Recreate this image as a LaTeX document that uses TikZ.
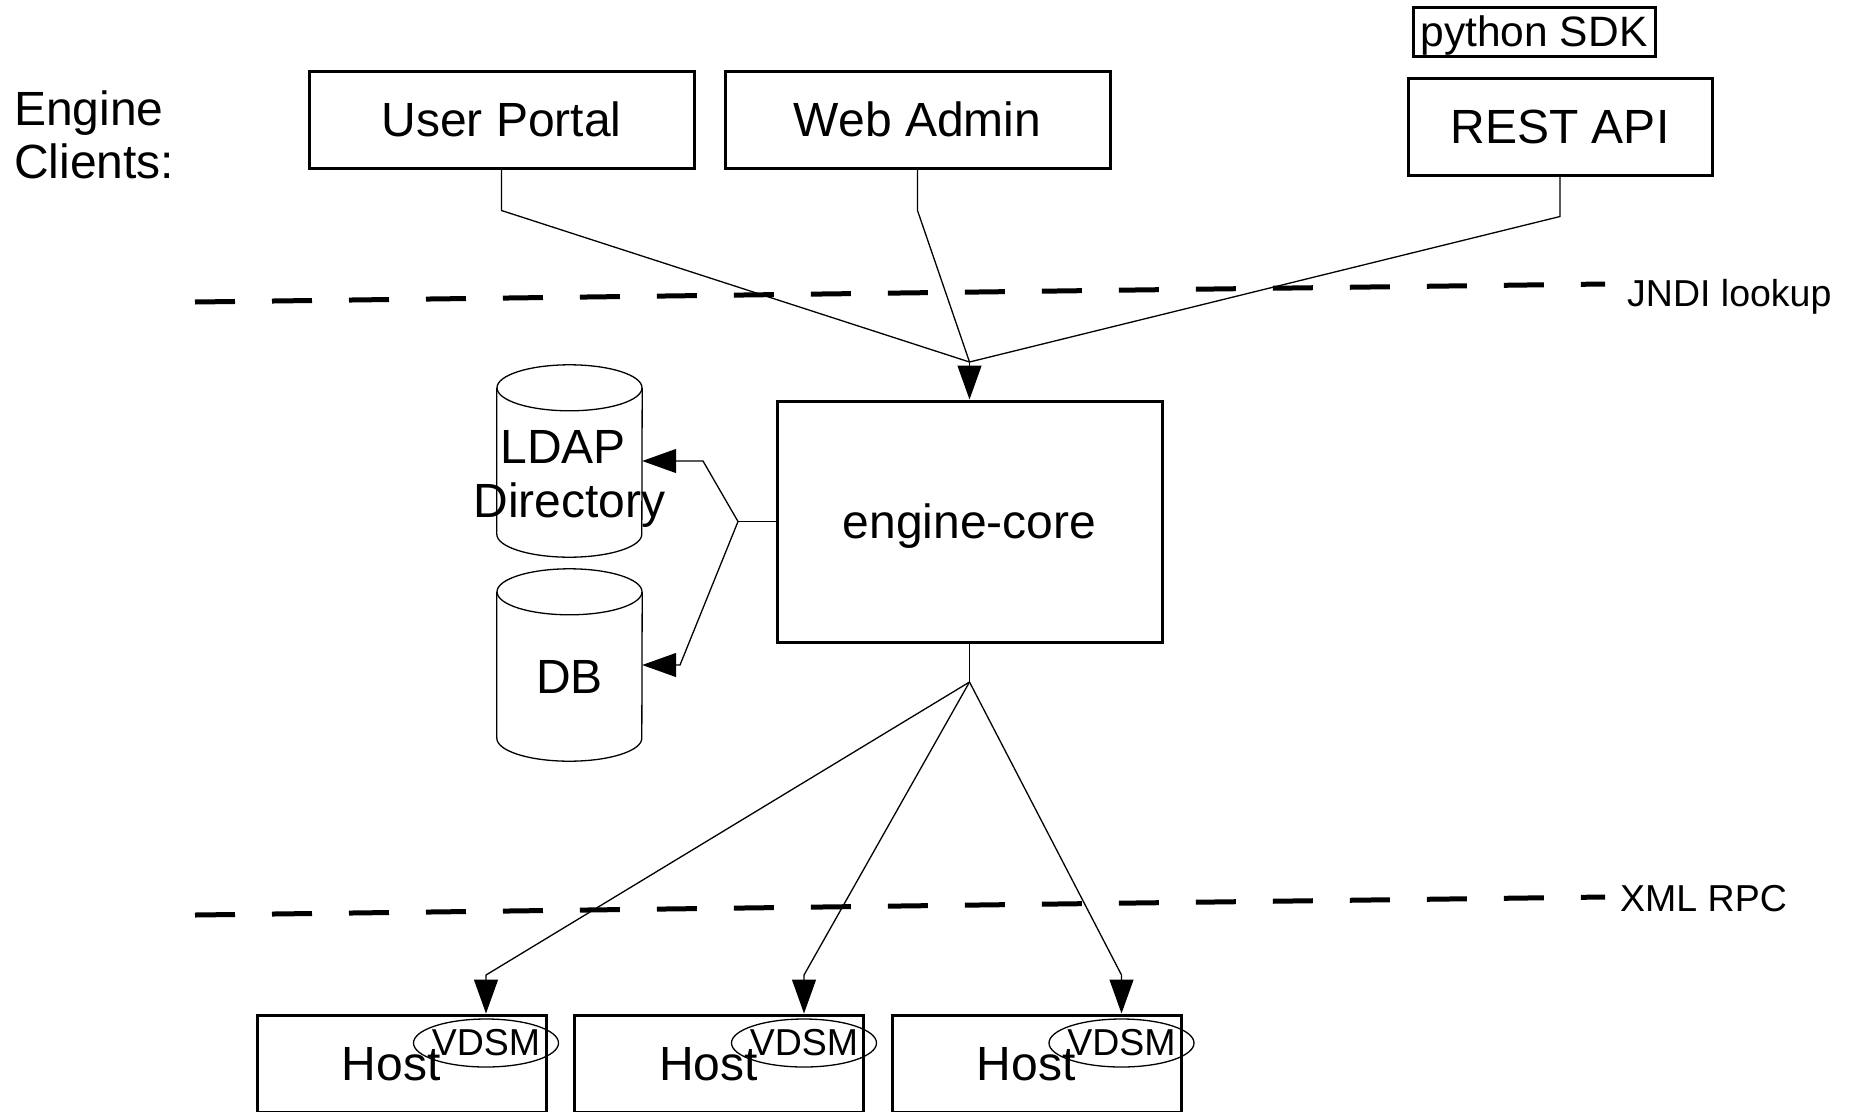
\documentclass[tikz,border=0pt]{standalone}
\usepackage{fontspec}
\setmainfont{Liberation Sans}
\usetikzlibrary{arrows.meta,shapes.geometric}
\newcommand{\fsA}{\fontsize{48pt}{54pt}\selectfont}
\newcommand{\fsB}{\fontsize{42.5pt}{48pt}\selectfont}
\newcommand{\fsC}{\fontsize{37.5pt}{44pt}\selectfont}
\newcommand{\fsD}{\fontsize{37.5pt}{42pt}\selectfont}
\begin{document}
\begin{tikzpicture}[x=1pt,y=1pt,
  box/.style={draw, line width=3pt, rectangle, inner sep=0pt, font=\fsA, text height=34pt, text depth=0pt},
  conn/.style={line width=1.3pt},
  arr/.style={-{Triangle[length=34pt,width=24pt]}},
  dline/.style={line width=5pt, dash pattern=on 40pt off 37pt},
  txt/.style={inner sep=0pt, font=\fsA},
  lbl/.style={inner sep=0pt, font=\fsC},
  vtxt/.style={inner sep=0pt, font=\fsD},
  cyl/.style={rectangle, inner sep=0pt, minimum width=145pt, minimum height=192pt},
  cylline/.style={line width=1.3pt},
  ell/.style={ellipse, draw, line width=1.3pt, inner sep=0pt, minimum width=145pt, minimum height=48pt},
  hostbox/.style={draw, line width=3pt, rectangle, inner sep=0pt, minimum width=289pt, minimum height=97pt}]
\useasboundingbox (0,0) rectangle (1851,-1111);

% clients label
\node[txt, anchor=base west] (eng1) at (14,-125) {Engine};
\node[txt, anchor=base west] (eng2) at (14,-178) {Clients:};

% client boxes
\node[box, minimum width=385pt, minimum height=97pt] (up) at (501.5,-119.5) {User Portal};
\node[box, minimum width=385pt, minimum height=97pt] (wa) at (917.5,-119.5) {Web Admin};
\node[box, minimum width=304pt, minimum height=97pt] (rest) at (1560,-126.5) {REST API};
\node[box, font=\fsB, text height=30pt, minimum width=242pt, minimum height=49pt] (sdk) at (1534,-31.5) {python SDK};

% engine core
\node[box, minimum width=385pt, minimum height=241pt] (core) at (969.5,-521.5) {engine-core};

% cylinders
\node[cyl] (ldap) at (569.5,-461) {};
\node[cyl] (db) at (569.5,-665) {};
\foreach \c in {ldap,db}{
  \draw[cylline] ([yshift=-23pt]\c.north) ellipse [x radius=72.5pt, y radius=23pt];
  \draw[cylline] ([yshift=-23pt]\c.north west) -- ([yshift=23pt]\c.south west)
     arc[start angle=180, end angle=360, x radius=72.5pt, y radius=23pt] -- ([yshift=-23pt]\c.north east);
}
\node[txt, anchor=base] (ldapt1) at (563,-463) {LDAP};
\node[txt, anchor=base] (ldapt2) at (569.5,-517) {Directory};
\node[txt, anchor=base] (dbt) at (569.5,-693) {DB};

% hosts
\node[hostbox] (h1) at (401.5,-1063.5) {};
\node[hostbox] (h2) at (719,-1063.5) {};
\node[hostbox] (h3) at (1036.5,-1063.5) {};
\node[txt, anchor=base] (h1t) at (391,-1080) {Host};
\node[txt, anchor=base] (h2t) at (708.5,-1080) {Host};
\node[txt, anchor=base] (h3t) at (1026,-1080) {Host};
\node[ell] (v1) at (486,-1043) {};
\node[ell] (v2) at (804,-1043) {};
\node[ell] (v3) at (1121.5,-1043) {};
\node[vtxt, anchor=base] (v1t) at (486,-1055) {VDSM};
\node[vtxt, anchor=base] (v2t) at (804,-1055) {VDSM};
\node[vtxt, anchor=base] (v3t) at (1121.5,-1055) {VDSM};

% dashed boundaries
\coordinate (ja) at (195,-302);
\coordinate (jb) at (1605,-284);
\draw[dline] (ja) -- (jb);
\node[lbl, anchor=base west] (jndi) at (1627,-306) {JNDI lookup};
\coordinate (xa) at (195,-915);
\coordinate (xb) at (1605,-897);
\draw[dline] (xa) -- (xb);
\node[lbl, anchor=base west] (xml) at (1620,-911) {XML RPC};

% top connectors
\coordinate (j1) at (969.5,-362);
\draw[conn] (up.south) -- ++(0,-41) -- (j1);
\draw[conn] (wa.south) -- ++(0,-41) -- (j1);
\draw[conn] (rest.south) -- ++(0,-40) -- (j1);
\draw[conn, arr] (j1) -- (core.north);

% left connectors
\coordinate (j3) at (738,-521.5);
\coordinate (bl) at (703,-461);
\coordinate (bd) at (680,-665);
\draw[conn] (core.west) -- (j3);
\draw[conn, arr] (j3) -- (bl) -- (ldap.east);
\draw[conn, arr] (j3) -- (bd) -- (db.east);

% bottom connectors
\coordinate (j2) at (969.5,-682);
\coordinate (b1) at (486,-975);
\coordinate (b2) at (804,-975);
\coordinate (b3) at (1121.5,-975);
\draw[conn] (core.south) -- (j2);
\draw[conn, arr] (j2) -- (b1) -- (v1.north |- h1.north);
\draw[conn, arr] (j2) -- (b2) -- (v2.north |- h2.north);
\draw[conn, arr] (j2) -- (b3) -- (v3.north |- h3.north);
\end{tikzpicture}
\end{document}
